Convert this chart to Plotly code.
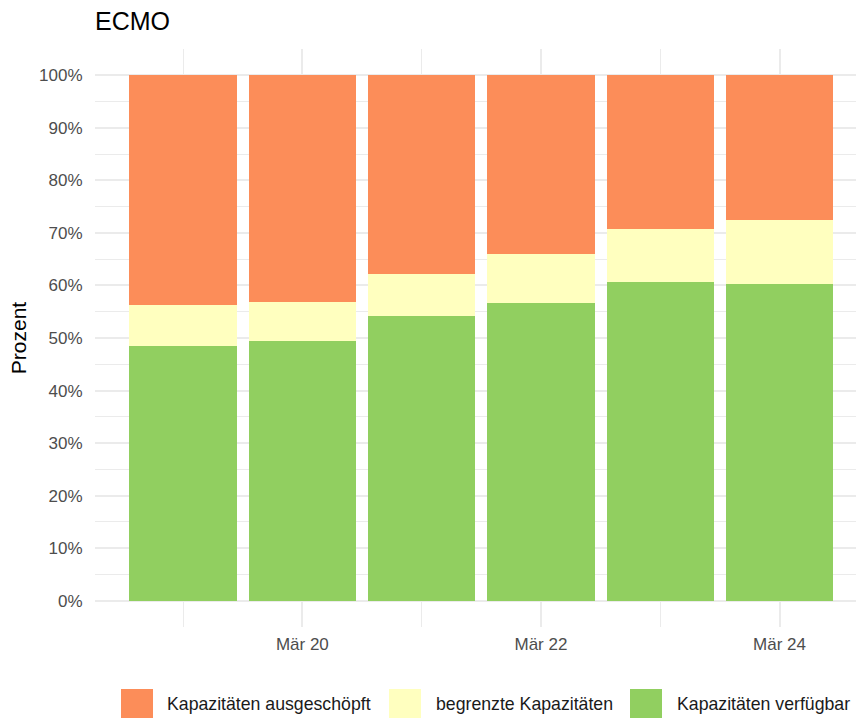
import plotly.graph_objects as go

# ---- data ----
dates = ["2021-03-19", "2021-03-20", "2021-03-21", "2021-03-22", "2021-03-23", "2021-03-24"]
verfuegbar = [48.5, 49.4, 54.2, 56.65, 60.65, 60.3]
begrenzt = [7.8, 7.45, 7.95, 9.35, 10.05, 12.15]
ausgeschoepft = [round(100 - a - b, 2) for a, b in zip(verfuegbar, begrenzt)]

x_tick_vals = ["2021-03-20", "2021-03-22", "2021-03-24"]
x_tick_text = ["Mär 20", "Mär 22", "Mär 24"]
x_minor_vals = ["2021-03-19", "2021-03-21", "2021-03-23"]
y_tick_vals = list(range(0, 101, 10))
y_tick_text = [f"{v}%" for v in y_tick_vals]
y_minor_vals = list(range(-5, 106, 10))

series = [
    ("Kapazitäten verfügbar", verfuegbar, "#91CF60"),
    ("begrenzte Kapazitäten", begrenzt, "#FFFFBF"),
    ("Kapazitäten ausgeschöpft", ausgeschoepft, "#FC8D59"),
]
legend_order = ["Kapazitäten ausgeschöpft", "begrenzte Kapazitäten", "Kapazitäten verfügbar"]

DAY_MS = 86400000
W, H = 856, 718
ML, MR, MT, MB = 95, 0, 49, 91
PW, PH = W - ML - MR, H - MT - MB

fig = go.Figure()
for name, vals, col in series:
    fig.add_trace(go.Bar(
        x=dates, y=vals, name=name, marker_color=col, marker_line_width=0,
        width=[0.9 * DAY_MS] * len(dates), showlegend=False,
    ))

grid = "#EBEBEB"
font_family = "Liberation Sans, Arial, Helvetica, sans-serif"

fig.update_layout(
    width=W, height=H, barmode="stack",
    margin=dict(l=ML, r=MR, t=MT, b=MB),
    plot_bgcolor="white", paper_bgcolor="white",
    font=dict(family=font_family, color="#000000"),
    title=dict(text="ECMO", x=ML / W, xanchor="left", xref="container",
               y=1 - 21 / H, yanchor="middle", yref="container",
               font=dict(size=25, color="#000000")),
    xaxis=dict(
        type="date",
        range=["2021-03-18 06:17", "2021-03-24 15:23"],
        tickvals=x_tick_vals, ticktext=x_tick_text,
        tickfont=dict(size=17, color="#4D4D4D"),
        ticks="outside", ticklen=2, tickcolor="rgba(0,0,0,0)",
        showgrid=True, gridcolor=grid, gridwidth=2, zeroline=False,
        showline=False,
        minor=dict(tickvals=x_minor_vals, showgrid=True, gridcolor=grid, gridwidth=1, ticks=""),
    ),
    yaxis=dict(
        range=[-5, 105],
        tickvals=y_tick_vals, ticktext=y_tick_text,
        tickfont=dict(size=17, color="#4D4D4D"),
        ticks="outside", ticklen=8, tickcolor="rgba(0,0,0,0)",
        showgrid=True, gridcolor=grid, gridwidth=2, zeroline=False,
        showline=False,
        minor=dict(tickvals=y_minor_vals, showgrid=True, gridcolor=grid, gridwidth=1, ticks=""),
        title=dict(text="Prozent", font=dict(size=21, color="#000000"), standoff=6),
    ),
)

# ---- custom legend (large keys like ggplot) ----
def px_x(px):
    return (px - ML) / PW

def px_y(py):
    return (H - MB - py) / PH

colors = {n: c for n, _, c in series}
key_left = [121, 389, 630]
text_left = [165, 434, 675]
for name, kx, tx in zip(legend_order, key_left, text_left):
    fig.add_shape(type="rect", xref="paper", yref="paper",
                  x0=px_x(kx), x1=px_x(kx + 32), y0=px_y(721), y1=px_y(689),
                  fillcolor=colors[name], line_width=0, layer="above")
    fig.add_annotation(xref="paper", yref="paper", x=px_x(tx), y=px_y(704),
                       text=name, showarrow=False, xanchor="left", yanchor="middle",
                       font=dict(size=17.7, color="#1A1A1A"))

fig.write_html("out.html", config={"displayModeBar": False},
               post_script="document.body.style.margin='0px';document.body.style.overflow='hidden';")
